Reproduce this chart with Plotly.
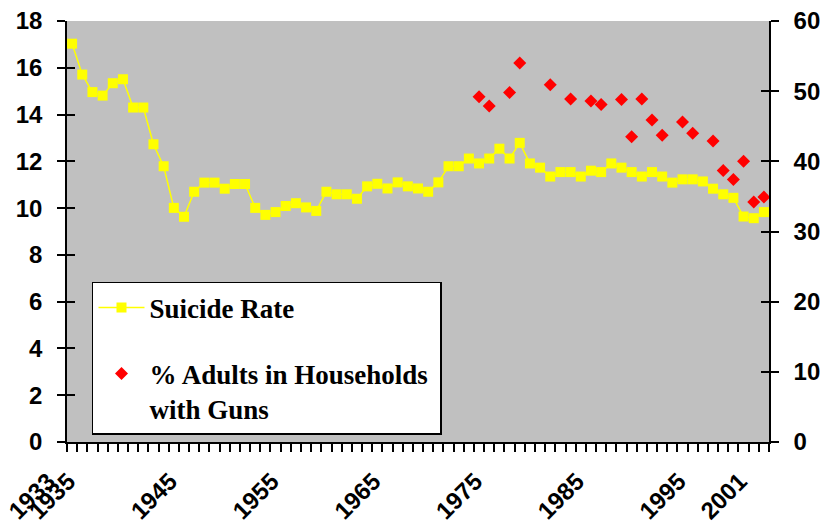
import plotly.graph_objects as go

years = list(range(1933, 2002))
suicide_rate = [17.03, 15.71, 14.96, 14.81, 15.34, 15.51, 14.30, 14.30, 12.73, 11.79,
                10.01, 9.63, 10.70, 11.09, 11.09, 10.83, 11.03, 11.03, 10.01, 9.71,
                9.83, 10.09, 10.21, 10.03, 9.88, 10.70, 10.59, 10.59, 10.40, 10.93,
                11.04, 10.84, 11.10, 10.93, 10.84, 10.70, 11.10, 11.79, 11.79, 12.12,
                11.91, 12.12, 12.54, 12.12, 12.79, 11.91, 11.73, 11.35, 11.54, 11.54,
                11.35, 11.60, 11.54, 11.91, 11.73, 11.54, 11.35, 11.54, 11.35, 11.09,
                11.23, 11.23, 11.14, 10.83, 10.59, 10.44, 9.64, 9.57, 9.83]

gun_years = [1973, 1974, 1976, 1977, 1980, 1982, 1984, 1985, 1987, 1988, 1989,
             1990, 1991, 1993, 1994, 1996, 1997, 1998, 1999, 2000, 2001]
gun_pct = [49.2, 47.9, 49.8, 54.0, 50.9, 48.9, 48.6, 48.1, 48.8, 43.5, 48.9,
           45.9, 43.7, 45.6, 44.0, 42.9, 38.7, 37.4, 40.0, 34.2, 34.9]

label_years = [1933, 1935, 1945, 1955, 1965, 1975, 1985, 1995, 2001]

tickfont = dict(family="Liberation Sans, Arial, sans-serif", size=24, color="black", weight="bold")
xr = [years[0] - 0.5, years[-1] + 0.5]

fig = go.Figure()
fig.add_trace(go.Scatter(
    x=years, y=suicide_rate, name="Suicide Rate", mode="lines+markers",
    line=dict(color="#FFFF00", width=1.5),
    marker=dict(symbol="square", size=10, color="#FFFF00"),
    legendgroup="a", xaxis="x", yaxis="y"))
fig.add_trace(go.Scatter(
    x=gun_years, y=gun_pct, name="% Adults in Households\u00a0<br>with Guns", mode="markers",
    marker=dict(symbol="diamond", size=10, color="#FF0000"),
    legendgroup="b", xaxis="x", yaxis="y2"))
# empty helper traces so that the tick-only overlay axes get drawn
fig.add_trace(go.Scatter(x=[], y=[], showlegend=False, xaxis="x", yaxis="y3"))
fig.add_trace(go.Scatter(x=[], y=[], showlegend=False, xaxis="x", yaxis="y4"))

fig.update_layout(
    width=821, height=526,
    margin=dict(l=67, r=52, t=21, b=84),
    paper_bgcolor="white", plot_bgcolor="#C0C0C0",
    hovermode=False,
    xaxis=dict(range=xr, tickmode="array", tickvals=label_years,
               ticktext=[str(y) for y in label_years], tickangle=-45, ticklabelshift=-24,
               ticklabelstandoff=6,
               ticks="outside", ticklen=8, tickcolor="rgba(0,0,0,0)",
               minor=dict(tickmode="linear", tick0=xr[0], dtick=1, ticks="outside",
                          ticklen=8, tickcolor="black", tickwidth=1.5),
               showgrid=False, zeroline=False, showline=True, linecolor="black",
               linewidth=1.5, tickfont=tickfont, automargin=False, ticklabeloverflow="allow"),
    yaxis=dict(range=[0, 18], dtick=2, ticks="outside", ticklen=8, tickwidth=1.5,
               tickcolor="black", showgrid=False, zeroline=False, showline=True,
               linecolor="black", linewidth=1.5, tickfont=tickfont, ticklabelstandoff=10,
               automargin=False, ticklabeloverflow="allow"),
    yaxis2=dict(range=[0, 60], dtick=10, overlaying="y", side="right", ticks="outside",
                ticklen=8, tickwidth=1.5, tickcolor="black", showgrid=False,
                zeroline=False, showline=True, linecolor="black", linewidth=1.5,
                tickfont=tickfont, ticklabelstandoff=10, automargin=False,
                ticklabeloverflow="allow"),
    yaxis3=dict(range=[0, 18], dtick=2, overlaying="y", side="left", ticks="inside",
                ticklen=8, tickwidth=1.5, tickcolor="black", showticklabels=False,
                showgrid=False, zeroline=False, showline=False, automargin=False),
    yaxis4=dict(range=[0, 60], dtick=10, overlaying="y", side="right", ticks="inside",
                ticklen=8, tickwidth=1.5, tickcolor="black", showticklabels=False,
                showgrid=False, zeroline=False, showline=False, automargin=False),
    legend=dict(x=0.0356, y=0.017, xanchor="left", yanchor="bottom",
                bgcolor="white", bordercolor="black", borderwidth=1.5,
                font=dict(family="Liberation Serif, Times New Roman, serif", size=27,
                          color="black", weight="bold"),
                traceorder="grouped", tracegroupgap=28, valign="top", itemwidth=46),
    showlegend=True,
)

# remove the default 8px page margin so the figure fills the window exactly
fig.write_html("out.html", config={"displayModeBar": False},
               post_script="document.body.style.margin='0';")
